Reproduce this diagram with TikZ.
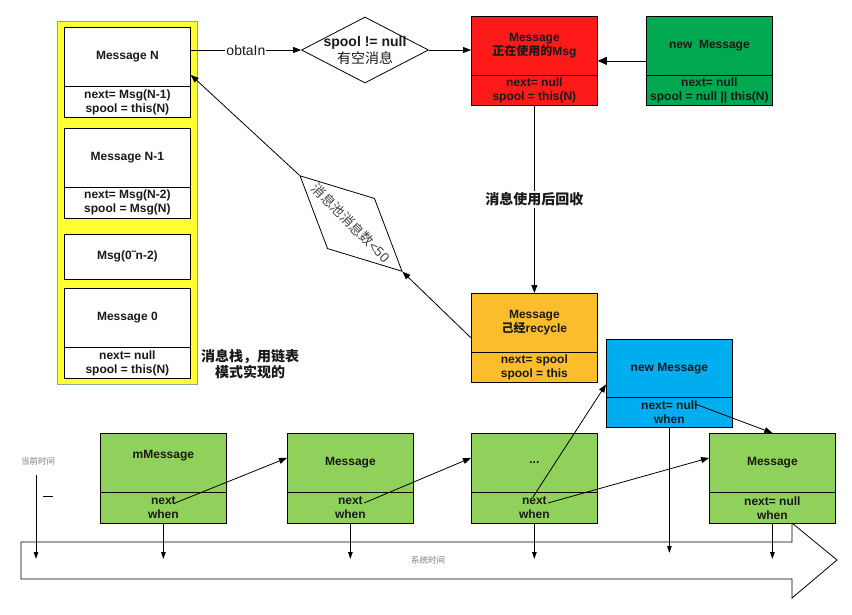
\documentclass[tikz,border=0pt]{standalone}
\usepackage{fontspec}
\setmainfont{Liberation Sans}
\newfontfamily\cjkfont{Noto Sans CJK SC}
\newcommand\zhtxt[1]{{\cjkfont #1}}
\usetikzlibrary{arrows.meta,shapes.geometric,calc}
\definecolor{stackyellow}{HTML}{FFFF33}
\definecolor{stackborder}{HTML}{8CA5A5}
\definecolor{usedred}{HTML}{FF1A1A}
\definecolor{newgreen}{HTML}{00A84F}
\definecolor{recyorange}{HTML}{FBBD2C}
\definecolor{newblue}{HTML}{00AEEF}
\definecolor{queuegreen}{HTML}{8FD15A}
\definecolor{inktext}{HTML}{1A1A1A}
\definecolor{graytext}{HTML}{7A7A7A}
\definecolor{difftext}{HTML}{444444}
\begin{document}
\begin{tikzpicture}[x=1pt,y=-1pt,
  part/.style={draw=black, line width=0.8pt, minimum width=126pt, inner sep=0pt,
    anchor=north west, align=center, font=\fontsize{12}{14}\selectfont\bfseries, text=inktext},
  arr/.style={-{Triangle[length=8pt,width=6pt]}, line width=0.8pt},
  arrd/.style={-{Triangle[length=7pt,width=4.5pt]}, line width=0.8pt},
  smalltxt/.style={font=\fontsize{8.5}{10}\selectfont, text=graytext},
  lbl/.style={font=\fontsize{14}{16}\selectfont\bfseries, text=inktext, fill=white, inner sep=1pt},
]
\useasboundingbox (0,0) rectangle (852,614);

% ---- time line
\draw[line width=0.8pt] (21,542) -- (792,542) -- (792,523) -- (837,560) -- (792,598) -- (792,579) -- (21,579) -- cycle;
\node[smalltxt] (systime) at (428,560) {\zhtxt{系统时间}};
\node[smalltxt] (curtime) at (38,461) {\zhtxt{当前时间}};
\coordinate (tl) at (0,559);
\coordinate (tlb) at (0,553);
\coordinate (ct0) at (36,475);
\draw[arrd] (ct0) -- (ct0 |- tl);
\draw[line width=0.8pt] (43,496) -- (53,496);

% ---- message stack
\node[draw=stackborder, line width=1pt, fill=stackyellow, minimum width=140pt, minimum height=363pt, anchor=north west, inner sep=0pt] (stack) at (57,21) {};
\node[part, fill=white, minimum height=59pt] (nup) at (64,27) {Message N};
\node[part, fill=white, minimum height=31pt] (nlo) at (64,86) {next= Msg(N-1)\\spool = this(N)};
\node[part, fill=white, minimum height=59pt] (n1up) at (64,128) {Message N-1};
\node[part, fill=white, minimum height=31pt] (n1lo) at (64,187) {next= Msg(N-2)\\spool = Msg(N)};
\node[part, fill=white, minimum height=45pt] (nmid) at (64,234) {Msg(0˜n-2)};
\node[part, fill=white, minimum height=59pt] (n0up) at (64,288) {Message 0};
\node[part, fill=white, minimum height=31pt] (n0lo) at (64,347) {next= null\\spool = this(N)};
\node[font=\fontsize{14}{16}\selectfont\bfseries, text=inktext, align=center] (stacklbl) at (250,364) {\zhtxt{消息栈，用链表}\\\zhtxt{模式实现的}};

% ---- obtain
\node[diamond, draw, line width=0.8pt, minimum width=127pt, minimum height=66pt, inner sep=0pt,
  label={[font=\fontsize{14}{17}\selectfont, text=inktext, align=center]center:{\textbf{spool != null}\\\zhtxt{有空消息}}}] (d1) at (365,50) {};

\node[part, fill=usedred, minimum height=59pt] (redup) at (471,16) {Message\\\zhtxt{正在使用的}Msg};
\node[part, fill=usedred, minimum height=30pt] (redlo) at (471,75) {next= null\\spool = this(N)};
\node[part, fill=newgreen, minimum height=59pt] (grup) at (646,16) {new~~Message};
\node[part, fill=newgreen, minimum height=30pt] (grlo) at (646,75) {next= null\\spool = null || this(N)};
\node[part, fill=recyorange, minimum height=59pt] (orup) at (471,293) {Message\\\zhtxt{己经}recycle};
\node[part, fill=recyorange, minimum height=30pt] (orlo) at (471,352) {next= spool\\spool = this};

\draw[arr] (nup.east |- d1.west) -- node[lbl, font=\fontsize{14}{16}\selectfont\mdseries] {obtaIn} (d1.west);
\draw[arr] (d1.east) -- (d1.east -| redup.west);
\draw[-{Triangle[length=9pt,width=8pt]}, line width=0.8pt] ([yshift=-15pt]grup.west) -- ([yshift=-15pt]redup.east);
\draw[arr] (redlo.south) -- node[lbl, inner sep=2pt] {\zhtxt{消息使用后回收}} (orup.north);

% ---- recycle back to pool
\node[diamond, draw, line width=0.8pt, minimum width=140pt, minimum height=69pt, inner sep=0pt, rotate=-43.1] (d2) at (351,223.5) {};
\node[rotate=-45.4, font=\fontsize{13.5}{16}\selectfont, text=difftext, inner sep=0pt] (d2txt) at (351,223) {\zhtxt{消息池消息数}<50};
\draw[arr] ($(orup.north west)!0.5!(orlo.south west)$) -- (d2.east);
\draw[arr] (d2.west) -- ([yshift=-18pt]nup.east);

% ---- message queue
\node[part, fill=queuegreen, minimum height=59pt,
  label={[font=\fontsize{12}{14}\selectfont\bfseries, text=inktext, yshift=7pt]center:mMessage}] (m1up) at (100,433) {};
\node[part, fill=queuegreen, minimum height=31pt] (m1lo) at (100,492) {next\\when};
\node[part, fill=queuegreen, minimum height=59pt] (m2up) at (287,433) {Message};
\node[part, fill=queuegreen, minimum height=31pt] (m2lo) at (287,492) {next\\when};
\node[part, fill=queuegreen, minimum height=59pt] (m3up) at (471,433) {...};
\node[part, fill=queuegreen, minimum height=31pt] (m3lo) at (471,492) {next\\when};
\node[part, fill=queuegreen, minimum height=59pt] (m4up) at (709,433) {Message};
\node[part, fill=queuegreen, minimum height=31pt] (m4lo) at (709,492) {next= null\\when};
\node[part, fill=newblue, minimum height=58pt] (bup) at (606,339) {new Message};
\node[part, fill=newblue, minimum height=30pt] (blo) at (606,397) {next= null\\when};

\coordinate (m1next) at (175,503);
\coordinate (m2next) at (364,503);
\coordinate (m3nextA) at (548,503);
\coordinate (m3nextB) at (533,497);
\coordinate (bnext) at (695,404);
\draw[arr] (m1next) -- ([yshift=5pt]m2up.west);
\draw[arr] (m2next) -- ([yshift=5pt]m3up.west);
\draw[arr] (m3nextA) -- ([yshift=5pt]m4up.west);
\draw[arr] (m3nextB) -- ([yshift=-16pt]bup.west);
\draw[arr] (bnext) -- (m4up.north);

\draw[arrd] (m1lo.south) -- (m1lo.south |- tl);
\draw[arrd] (m2lo.south) -- (m2lo.south |- tl);
\draw[arrd] (m3lo.south) -- (m3lo.south |- tl);
\draw[arrd] (m4lo.south) -- (m4lo.south |- tl);
\draw[arrd] (blo.south) -- (blo.south |- tlb);
\end{tikzpicture}
\end{document}
